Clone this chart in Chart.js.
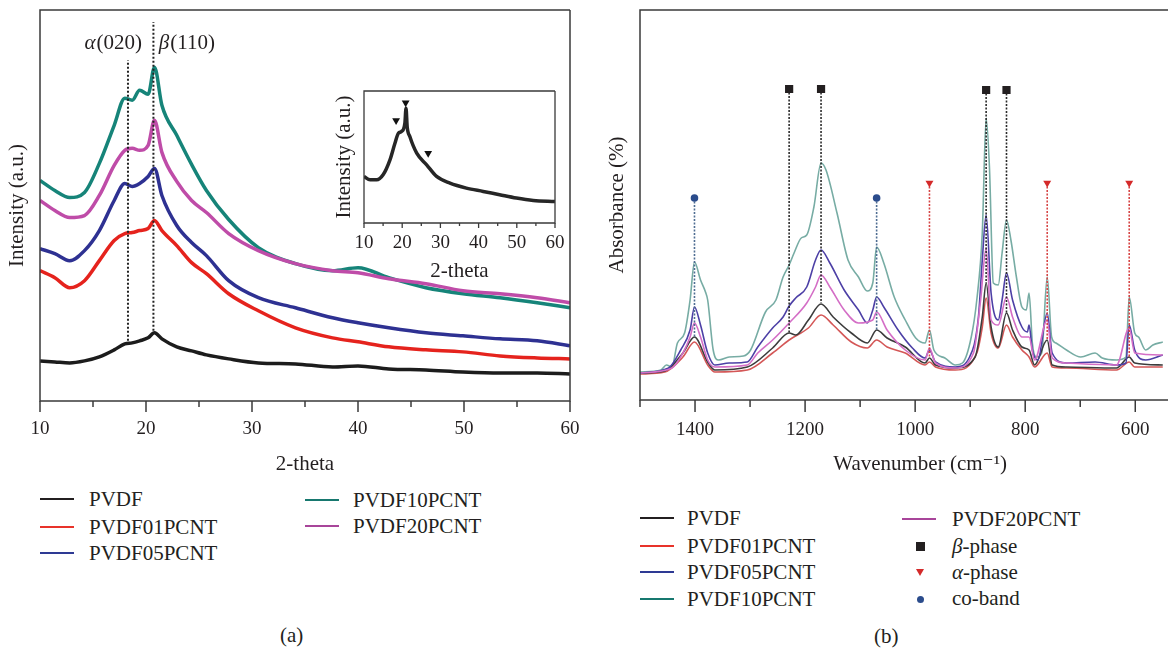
<!DOCTYPE html>
<html>
<head>
<meta charset="utf-8">
<script src="https://cdn.jsdelivr.net/npm/chart.js@4.4.1/dist/chart.umd.min.js"></script>
<style>
html, body { margin: 0; padding: 0; background: #fff; overflow: hidden; width: 1168px; height: 650px; }
body { position: relative; font-family: "Liberation Serif", "DejaVu Serif", serif; color: #231f20; }
.box { position: absolute; }
.lg { position: absolute; font-size: 21px; line-height: 24px; white-space: nowrap; font-family: "Liberation Serif", serif; }
</style>
</head>
<body>
<div class="box" style="left:0;top:0;width:600px;height:480px"><canvas id="xrd"></canvas></div>
<div class="box" style="left:320px;top:80px;width:250px;height:205px"><canvas id="inset"></canvas></div>
<div class="box" style="left:600px;top:0;width:606px;height:480px"><canvas id="ftir"></canvas></div>
<div id="legends"></div>
<script>
// ---- XRD (a) ----
const xrdAngle = [10, 11.4, 12.8, 14.2, 15.6, 17, 18, 18.7, 19.4, 20.2, 20.8, 21.5, 22.9, 24.3, 25.7, 27.8, 30.6, 34.1, 37.6, 40, 42.9, 46.4, 49.9, 53.4, 56.9, 60];
const xrdPVDF   = [40, 39, 38, 40, 44, 51, 57, 58, 60, 63, 68, 62, 54, 50, 46, 42, 38, 37, 34, 35, 32, 31, 29, 28, 28, 27];
const xrdPVDF01 = [130, 123, 113, 120, 140, 160, 167, 168, 170, 172, 180, 170, 155, 138, 127, 107, 90, 73, 63, 59, 54, 51, 49, 45, 43, 42];
const xrdPVDF05 = [152, 147, 140, 150, 170, 200, 217, 214, 217, 224, 232, 205, 175, 158, 145, 120, 103, 93, 83, 78, 73, 68, 65, 62, 60, 55];
const xrdPVDF10 = [220, 210, 203, 208, 237, 275, 302, 300, 310, 306, 333, 295, 265, 236, 210, 181, 153, 137, 130, 133, 123, 113, 107, 103, 98, 93];
const xrdPVDF20 = [200, 190, 183, 185, 205, 235, 250, 252, 250, 255, 280, 248, 219, 200, 188, 167, 150, 137, 130, 128, 122, 117, 110, 107, 103, 98];
const xrdTicks = [10, 20, 30, 40, 50, 60];
const xrdMinorTicks = [15, 25, 35, 45, 55];
const phaseLineAngle = [18.3, 20.7];
const phaseLineFrom = [60, 70];
const phaseLineTo = [340, 378];

// inset
const insetAngle = [10, 11.6, 13.3, 15, 16.8, 18.1, 19, 19.8, 20.7, 21, 21.3, 22, 23.8, 26.4, 29, 32.5, 36.8, 41.2, 45.5, 49.9, 54.3, 60];
const insetIntensity = [140, 130, 130, 145, 190, 240, 270, 275, 300, 345, 290, 260, 210, 175, 140, 120, 105, 95, 85, 75, 68, 65];
const insetPeakAngle = [18.4, 20.9, 26.8];
const insetPeakIntensity = [308, 362, 210];

// ---- FTIR (b) ----
const wnPVDF10 = [1500,1462,1452,1442,1432,1419,1409,1401,1390,1381,1377,1367,1357,1338,1312,1299,1272,1253,1240,1229,1220,1207,1197,1184,1171,1162,1142,1122,1103,1087,1077,1070,1057,1038,1018,999,982,974,966,946,927,914,898,888,878,871,865,858,849,842,834,826,816,806,798,793,787,780,770,760,752,744,725,699,673,660,634,617,611,601,594,581,568,550];
const absPVDF10 = [28,30,35,33,57,67,100,138,120,108,100,50,40,43,44,50,88,100,123,135,147,162,165,193,237,230,187,140,123,109,117,153,137,103,80,62,57,70,50,42,35,37,63,100,167,282,233,117,115,147,180,160,123,93,90,107,57,43,47,123,63,57,50,43,47,42,40,43,103,67,63,50,55,58];
const wnPVDF05 = [1500,1448,1426,1409,1401,1390,1377,1364,1338,1305,1286,1259,1240,1229,1217,1197,1181,1171,1155,1129,1103,1087,1077,1070,1057,1031,1005,982,974,963,927,901,885,878,871,862,849,842,834,823,806,796,793,787,777,760,751,725,673,634,617,611,601,581,550];
const absPVDF05 = [27,32,50,70,93,75,47,35,37,38,53,72,83,94,102,113,140,150,137,110,90,77,90,103,93,70,52,42,50,38,33,43,83,140,185,107,80,100,127,100,73,68,75,50,40,87,47,37,38,35,37,75,50,40,45];
const wnPVDF20 = [1500,1442,1422,1409,1401,1390,1377,1364,1305,1286,1259,1229,1197,1181,1171,1155,1129,1103,1077,1070,1051,1018,982,974,963,927,894,881,871,862,849,834,823,806,793,783,760,751,725,634,611,601,550];
const absPVDF20 = [27,32,47,63,77,63,40,33,35,47,60,77,97,113,125,113,90,77,80,88,70,50,40,52,37,32,47,100,152,80,75,103,83,63,63,40,80,42,37,35,72,47,45];
const wnPVDF = [1500,1455,1422,1401,1377,1364,1305,1259,1229,1217,1194,1171,1149,1116,1087,1070,1051,1018,982,974,963,927,891,878,871,862,849,834,823,806,793,783,760,751,725,634,611,601,550];
const absPVDF = [27,29,47,63,38,30,33,52,67,65,80,96,83,67,57,70,62,53,37,42,35,32,43,83,117,73,53,87,70,53,50,35,60,35,33,32,43,37,35];
const wnPVDF01 = [1500,1455,1422,1401,1377,1364,1305,1259,1229,1194,1171,1149,1116,1087,1070,1051,1018,982,974,963,927,888,878,871,862,849,834,823,806,793,783,760,751,725,634,611,601,550];
const absPVDF01 = [26,28,43,58,35,28,30,47,60,72,85,75,58,52,60,53,47,35,38,33,30,47,73,102,67,52,75,63,50,43,33,47,33,32,30,38,33,33];
const ftirTicks = [1400, 1200, 1000, 800, 600];
const ftirMinorTicks = [1500, 1300, 1100, 900, 700];

const betaWn = [1229, 1171, 871, 834];
const betaMark = [311, 311, 310, 310];
const betaDrop = [67, 97, 117, 87];
const alphaWn = [974, 760, 611];
const alphaMark = [217, 217, 217];
const alphaDrop = [42, 60, 43];
const coWn = [1401, 1070];
const coMark = [202, 202];
const coDrop = [63, 70];

const seriesNames = ['PVDF', 'PVDF01PCNT', 'PVDF05PCNT', 'PVDF10PCNT', 'PVDF20PCNT'];

// ---- styling ----
const fam = "'Liberation Serif', 'DejaVu Serif', serif";
const ink = '#231f20';
Chart.defaults.font.family = fam;
Chart.defaults.color = ink;

const xrdColors = ['#1c1c1c', '#e5231d', '#2e3192', '#168479', '#bf4ca8'];
const ftirColors = ['#3c3c3c', '#d45757', '#4d40a6', '#77aca4', '#d46ec6'];
const legendColors = ['#231f20', '#e8332a', '#2e3a94', '#17786f', '#a8459a'];

const pts = (xs, ys) => xs.map((v, i) => ({x: v, y: ys[i]}));

const frame = {
  id: 'frame',
  afterDraw(chart, args, o) {
    const {ctx, chartArea: a} = chart;
    const x = chart.scales.x;
    ctx.save();
    ctx.strokeStyle = '#3a3a3a';
    ctx.lineWidth = o.width;
    ctx.beginPath();
    ctx.moveTo(a.right, a.top);
    ctx.lineTo(a.left, a.top);
    ctx.lineTo(a.left, a.bottom);
    ctx.lineTo(a.right, a.bottom);
    if (o.right) ctx.lineTo(a.right, a.top);
    ctx.stroke();
    const tick = (v, len) => {
      const p = x.getPixelForValue(v);
      ctx.beginPath();
      ctx.moveTo(p, a.bottom);
      ctx.lineTo(p, a.bottom + len);
      ctx.stroke();
    };
    o.major.forEach(v => tick(v, o.majorLen));
    o.minor.forEach(v => tick(v, o.minorLen));
    ctx.restore();
  }
};

const peakLabels = {
  id: 'peakLabels',
  afterDatasetsDraw(chart, args, o) {
    if (!o.items) return;
    const {ctx, scales: {x, y}} = chart;
    ctx.save();
    ctx.fillStyle = ink;
    ctx.textBaseline = 'middle';
    o.items.forEach(it => {
      let px = x.getPixelForValue(it.at);
      const py = y.getPixelForValue(it.level);
      ctx.font = 'italic 21px ' + fam;
      ctx.fillText(it.greek, px, py);
      px += ctx.measureText(it.greek).width + 1;
      ctx.font = '21px ' + fam;
      ctx.fillText(it.rest, px, py);
    });
    ctx.restore();
  }
};

function xAxis(opts) {
  return {
    type: 'linear', min: opts.min, max: opts.max, reverse: !!opts.reverse,
    grid: {display: false, drawTicks: false, tickLength: 0},
    border: {display: false},
    afterBuildTicks: s => { s.ticks = opts.ticks.map(v => ({value: v})); },
    ticks: {font: {family: fam, size: 19}, color: ink, padding: opts.tickPad, maxRotation: 0, autoSkip: false, callback: v => String(v)},
    title: {display: true, text: opts.title, font: {family: fam, size: 21}, color: ink, padding: opts.titlePad},
    afterFit: s => { s.height = opts.height; s.paddingLeft = 0; s.paddingRight = 0; }
  };
}
function yAxis(opts) {
  return {
    min: 0, max: opts.max,
    grid: {display: false, drawTicks: false, tickLength: 0},
    border: {display: false},
    ticks: {display: false},
    title: {display: true, text: opts.title, font: {family: fam, size: 21}, color: ink, padding: opts.titlePad},
    afterFit: s => { s.width = opts.width; s.paddingTop = 0; s.paddingBottom = 0; }
  };
}
const base = {
  responsive: true, maintainAspectRatio: false, animation: false, events: [],
  elements: {point: {radius: 0}, line: {cubicInterpolationMode: 'monotone'}},
};

// ---- chart (a) ----
const xrdSeries = [xrdPVDF, xrdPVDF01, xrdPVDF05, xrdPVDF10, xrdPVDF20];
const xrdOrder = [2, 3, 4, 6, 5];
const xrdSets = xrdSeries.map((s, i) => ({
  label: seriesNames[i], data: pts(xrdAngle, s), borderColor: xrdColors[i],
  borderWidth: 3.5, order: xrdOrder[i]
}));
phaseLineAngle.forEach((a, i) => xrdSets.push({
  data: [{x: a, y: phaseLineFrom[i]}, {x: a, y: phaseLineTo[i]}],
  borderColor: '#222', borderWidth: 2, borderDash: [2, 2], order: 1, cubicInterpolationMode: 'default'
}));

new Chart(document.getElementById('xrd'), {
  type: 'line',
  data: {datasets: xrdSets},
  options: Object.assign({}, base, {
    layout: {padding: {top: 10, right: 30, left: 0, bottom: 0}},
    plugins: {
      legend: {display: false}, tooltip: {enabled: false},
      frame: {width: 1.5, right: true, major: xrdTicks, minor: xrdMinorTicks, majorLen: 11, minorLen: 6},
      peakLabels: {items: [{greek: 'α', rest: '(020)', at: 14.2, level: 357}, {greek: 'β', rest: '(110)', at: 21.2, level: 357}]}
    },
    scales: {
      x: xAxis({min: 10, max: 60, ticks: xrdTicks, tickPad: 17, title: '2-theta', titlePad: {top: 3, bottom: 3}, height: 79}),
      y: yAxis({max: 390, title: 'Intensity (a.u.)', titlePad: {top: 5, bottom: 0}, width: 40})
    }
  }),
  plugins: [frame, peakLabels]
});

// ---- inset ----
new Chart(document.getElementById('inset'), {
  type: 'line',
  data: {datasets: [
    {data: pts(insetPeakAngle, insetPeakIntensity), showLine: false, pointStyle: 'triangle', pointRotation: 180,
     pointRadius: 4.5, pointBackgroundColor: '#111', pointBorderWidth: 0, order: 0},
    {data: pts(insetAngle, insetIntensity), borderColor: '#262626', borderWidth: 3.5, order: 1}
  ]},
  options: Object.assign({}, base, {
    layout: {padding: {top: 11, right: 15, left: 0, bottom: 0}},
    plugins: {
      legend: {display: false}, tooltip: {enabled: false},
      frame: {width: 1.3, right: true, major: xrdTicks, minor: xrdMinorTicks, majorLen: 5, minorLen: 3}
    },
    scales: {
      x: xAxis({min: 10, max: 60, ticks: xrdTicks, tickPad: 9, title: '2-theta', titlePad: {top: 1, bottom: 1}, height: 62}),
      y: yAxis({max: 397, title: 'Intensity (a.u.)', titlePad: {top: 12, bottom: 0}, width: 44})
    }
  }),
  plugins: [frame]
});

// ---- chart (b) ----
const ftirWn = [wnPVDF, wnPVDF01, wnPVDF05, wnPVDF10, wnPVDF20];
const ftirAbs = [absPVDF, absPVDF01, absPVDF05, absPVDF10, absPVDF20];
const ftirOrder = [4, 5, 3, 6, 2];
const ftirSets = ftirWn.map((w, i) => ({
  label: seriesNames[i], data: pts(w, ftirAbs[i]), borderColor: ftirColors[i],
  borderWidth: 1.6, order: ftirOrder[i]
}));
const markerGroups = [
  {wn: betaWn, top: betaMark, drop: betaDrop, style: 'rect', radius: 5.8, rot: 0, color: '#231f20', lineColor: '#2a2a2a'},
  {wn: alphaWn, top: alphaMark, drop: alphaDrop, style: 'triangle', radius: 4.6, rot: 180, color: '#d42a2a', lineColor: '#d64545'},
  {wn: coWn, top: coMark, drop: coDrop, style: 'circle', radius: 3.8, rot: 0, color: '#2b4c8c', lineColor: '#4f6d92'}
];
markerGroups.forEach(g => {
  ftirSets.push({data: pts(g.wn, g.top), showLine: false, pointStyle: g.style, pointRotation: g.rot,
    pointRadius: g.radius, pointBackgroundColor: g.color, pointBorderWidth: 0, order: 0});
  g.wn.forEach((w, i) => ftirSets.push({
    data: [{x: w, y: g.top[i]}, {x: w, y: g.drop[i]}], borderColor: g.lineColor,
    borderWidth: 1.6, borderDash: [2, 1.5], order: 1, cubicInterpolationMode: 'default'
  }));
});

new Chart(document.getElementById('ftir'), {
  type: 'line',
  data: {datasets: ftirSets},
  options: Object.assign({}, base, {
    layout: {padding: {top: 10, right: 0, left: 0, bottom: 0}},
    plugins: {
      legend: {display: false}, tooltip: {enabled: false},
      frame: {width: 1.5, right: false, major: ftirTicks, minor: ftirMinorTicks, majorLen: 12, minorLen: 7}
    },
    scales: {
      x: xAxis({min: 482, max: 1500, reverse: true, ticks: ftirTicks, tickPad: 19, title: 'Wavenumber (cm⁻¹)', titlePad: {top: 4, bottom: 3}, height: 80}),
      y: yAxis({max: 390, title: 'Absorbance (%)', titlePad: {top: 5, bottom: 0}, width: 40})
    }
  }),
  plugins: [frame]
});

// ---- legends (html) ----
const host = document.getElementById('legends');
function add(html, css) {
  const d = document.createElement('div');
  d.innerHTML = html;
  Object.assign(d.style, css);
  host.appendChild(d);
  return d;
}
function textAt(x, cy, html) {
  const t = add(html, {});
  t.className = 'lg';
  t.style.left = x + 'px';
  t.style.top = (cy - 12) + 'px';
}
function lineItem(lx, tx, cy, color, text) {
  add('', {position: 'absolute', left: lx + 'px', top: (cy - 1.25) + 'px', width: '34px', height: '0', borderTop: '2.5px solid ' + color});
  textAt(tx, cy, text);
}
// (a)
const legA = [[40, 89, 499], [40, 89, 527], [40, 89, 553], [305, 353, 500], [305, 353, 526]];
legA.forEach((p, i) => lineItem(p[0], p[1], p[2], legendColors[i], seriesNames[i]));
// (b)
const legB = [[640, 687, 518], [640, 687, 546], [640, 687, 572], [640, 687, 599], [902, 952, 519]];
legB.forEach((p, i) => lineItem(p[0], p[1], p[2], legendColors[i], seriesNames[i]));
const markerLegend = [
  {cy: 546, html: '<div style="position:absolute;left:-4.5px;top:-4.5px;width:9px;height:9px;background:#231f20"></div>', text: '<i>β</i>-phase'},
  {cy: 572, html: '<div style="position:absolute;left:-4px;top:-3px;width:0;height:0;border-left:4px solid transparent;border-right:4px solid transparent;border-top:7px solid #d42a2a"></div>', text: '<i>α</i>-phase'},
  {cy: 598, html: '<div style="position:absolute;left:-3.5px;top:-2.5px;width:7px;height:7px;border-radius:50%;background:#2b4c8c"></div>', text: 'co-band'}
];
markerLegend.forEach(m => {
  add(m.html, {position: 'absolute', left: '920px', top: m.cy + 'px', width: '0', height: '0'});
  textAt(952, m.cy, m.text);
});
textAt(280, 635, '(a)');
textAt(874, 636, '(b)');
</script>
</body>
</html>
